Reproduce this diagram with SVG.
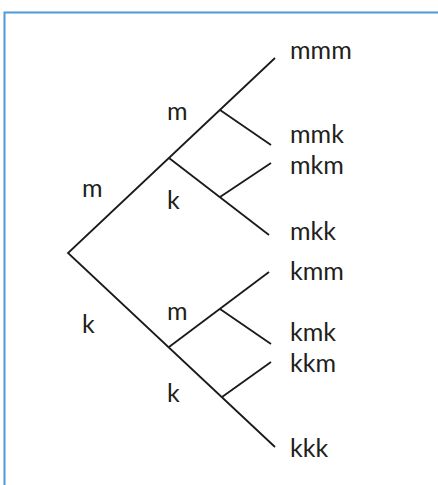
<svg xmlns="http://www.w3.org/2000/svg" width="438" height="485" viewBox="0 0 438 485">
<style>
.frame{fill:none;stroke:#4d9ad8;stroke-width:2}
.edge{fill:none;stroke:#1a1a1a;stroke-width:1.8;stroke-linecap:butt;stroke-linejoin:miter}
text{font-family:Lato,"Open Sans","Liberation Sans",sans-serif;font-size:25px;fill:#231f20}
</style>
<rect width="438" height="485" fill="#ffffff"/>
<path class="frame" d="M4.5,485 V12.5 H438"/>
<g id="connectors">
<path class="edge" d="M275,58 L68,253 L275,447"/>
<path class="edge" d="M220,110 L271,145"/>
<path class="edge" d="M169,158 L269,235"/>
<path class="edge" d="M220,197 L271,163"/>
<path class="edge" d="M169,347 L269,272"/>
<path class="edge" d="M220,309 L271,344"/>
<path class="edge" d="M222,397 L271,362"/>
</g>
<g id="edge-labels">
<text x="82" y="197">m</text>
<text x="82" y="333">k</text>
<text x="167" y="120">m</text>
<text x="167" y="209">k</text>
<text x="167" y="320">m</text>
<text x="167" y="402">k</text>
</g>
<g id="leaf-mmm"><text x="290" y="59">mmm</text></g>
<g id="leaf-mmk"><text x="290" y="143">mmk</text></g>
<g id="leaf-mkm"><text x="290" y="174">mkm</text></g>
<g id="leaf-mkk"><text x="290" y="240">mkk</text></g>
<g id="leaf-kmm"><text x="290" y="280">kmm</text></g>
<g id="leaf-kmk"><text x="290" y="341">kmk</text></g>
<g id="leaf-kkm"><text x="290" y="372">kkm</text></g>
<g id="leaf-kkk"><text x="290" y="457">kkk</text></g>
</svg>
